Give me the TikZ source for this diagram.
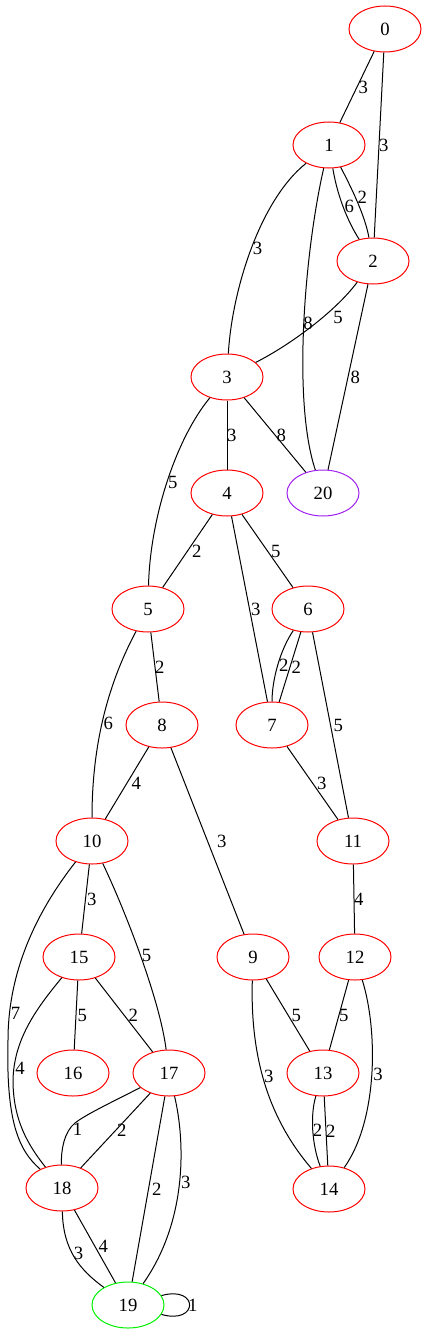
\documentclass[tikz,border=0pt]{standalone}
\usepackage{fontspec}
\setmainfont{Liberation Serif}
\usetikzlibrary{shapes.geometric}
\definecolor{vred}{RGB}{255,0,0}
\definecolor{vpurple}{RGB}{160,32,240}
\definecolor{vgreen}{RGB}{0,240,0}

\begin{document}
\begin{tikzpicture}[x=1pt,y=-1pt,line width=1pt,
  vtx/.style={draw=vred,ellipse,minimum width=72pt,minimum height=46pt,inner sep=0pt,font=\fontsize{18.7pt}{20pt}\selectfont},
  lbl/.style={inner sep=1pt,font=\fontsize{18.7pt}{20pt}\selectfont}]
\useasboundingbox (0,0) rectangle (427,1335);
% vertices
\node[vtx] (n0) at (385,29) {0};
\node[vtx] (n1) at (329,145) {1};
\node[vtx] (n2) at (373,261) {2};
\node[vtx] (n3) at (227,377) {3};
\node[vtx] (n4) at (227,493) {4};
\node[vtx,draw=vpurple] (n20) at (323,493) {20};
\node[vtx] (n5) at (148,609) {5};
\node[vtx] (n6) at (308,609) {6};
\node[vtx] (n8) at (162,725) {8};
\node[vtx] (n7) at (272,725) {7};
\node[vtx] (n10) at (92,841) {10};
\node[vtx] (n11) at (353,841) {11};
\node[vtx] (n15) at (79,957) {15};
\node[vtx] (n9) at (253,957) {9};
\node[vtx] (n12) at (355,957) {12};
\node[vtx] (n16) at (73,1073) {16};
\node[vtx] (n17) at (169,1073) {17};
\node[vtx] (n13) at (323,1073) {13};
\node[vtx] (n18) at (62,1188) {18};
\node[vtx] (n14) at (329,1189) {14};
\node[vtx,draw=vgreen] (n19) at (128,1305) {19};
% edges
\draw (n0) -- (n1) node[lbl,midway,right] {3};
\draw (n0) -- (n2) node[lbl,midway,right=-1.5pt] {3};
\draw (n1) .. controls (338,200) and (350,225) .. (n2) node[lbl,pos=.45,right] {6};
\draw (n1) .. controls (350,185) and (365,215) .. (n2) node[lbl,pos=.45,right=1pt] {2};
\draw (n1) .. controls (260,200) and (232,290) .. (n3) node[lbl,pos=.5,right] {3};
\draw (n1) .. controls (305,250) and (292,400) .. (n20) node[lbl,pos=.5,right=-2pt] {8};
\draw (n2) .. controls (335,312) and (290,345) .. (n3) node[lbl,pos=.3,anchor=north west] {5};
\draw (n2) -- (n20) node[lbl,midway,right=1pt] {8};
\draw (n3) -- (n4) node[lbl,midway,right=-1.5pt] {3};
\draw (n3) -- (n20) node[lbl,midway,right] {8};
\draw (n3) .. controls (175,440) and (150,520) .. (n5) node[lbl,pos=.5,right] {5};
\draw (n4) -- (n5) node[lbl,midway,right=3pt] {2};
\draw (n4) -- (n6) node[lbl,midway,right=2pt] {5};
\draw (n4) -- (n7) node[lbl,midway,right] {3};
\draw (n6) .. controls (280,650) and (272,680) .. (n7) node[lbl,pos=.5,right] {2};
\draw (n6) -- (n7) node[lbl,midway,right] {2};
\draw (n6) -- (n11) node[lbl,midway,right=1.5pt] {5};
\draw (n5) -- (n8) node[lbl,midway,right=-1.5pt] {2};
\draw (n5) .. controls (110,680) and (92,740) .. (n10) node[lbl,pos=.55,right] {6};
\draw (n8) -- (n10) node[lbl,midway,right=3pt] {4};
\draw (n8) -- (n9) node[lbl,midway,right=8pt] {3};
\draw (n7) -- (n11) node[lbl,midway,right=3pt] {3};
\draw (n11) -- (n12) node[lbl,midway,right=-1.5pt] {4};
\draw (n10) -- (n15) node[lbl,midway,right] {3};
\draw (n10) .. controls (125,910) and (160,1000) .. (n17) node[lbl,pos=.5,right] {5};
\draw (n10) .. controls (30,920) and (8,980) .. (8,1040) node[lbl,pos=.85,right] {7}
  .. controls (6,1120) and (18,1150) .. (n18);
\draw (n15) -- (n16) node[lbl,midway,right] {5};
\draw (n15) -- (n17) node[lbl,midway,right=3pt] {2};
\draw (n15) .. controls (35,1010) and (14,1040) .. (13,1080) node[lbl,pos=.9,right] {4}
  .. controls (13,1120) and (28,1145) .. (n18);
\draw (n9) -- (n13) node[lbl,midway,right=2pt] {5};
\draw (n9) .. controls (250,1060) and (270,1120) .. (n14) node[lbl,pos=.45,right] {3};
\draw (n12) -- (n13) node[lbl,midway,right=-1.5pt] {5};
\draw (n12) .. controls (378,1030) and (378,1120) .. (n14) node[lbl,pos=.5,right] {3};
\draw (n13) .. controls (310,1115) and (312,1145) .. (n14) node[lbl,pos=.5,right=-1.5pt] {2};
\draw (n13) -- (n14) node[lbl,midway,right=-1.5pt] {2};
\draw (n17) .. controls (110,1103) and (85,1115) .. (75,1123)
  .. controls (64,1132) and (61,1150) .. (n18) node[lbl,pos=.2,right=2pt] {1};
\draw (n17) -- (n18) node[lbl,midway,right] {2};
\draw (n17) -- (n19) node[lbl,midway,right=2pt] {2};
\draw (n17) .. controls (185,1140) and (188,1220) .. (n19) node[lbl,pos=.5,right] {3};
\draw (n18) .. controls (63,1250) and (80,1270) .. (n19) node[lbl,pos=.45,right] {3};
\draw (n18) -- (n19) node[lbl,midway,right=2pt] {4};
\draw (n19) .. controls (199,1285) and (199,1325) .. (n19) node[lbl,pos=.5,right=-3pt] {1};
\end{tikzpicture}
\end{document}
